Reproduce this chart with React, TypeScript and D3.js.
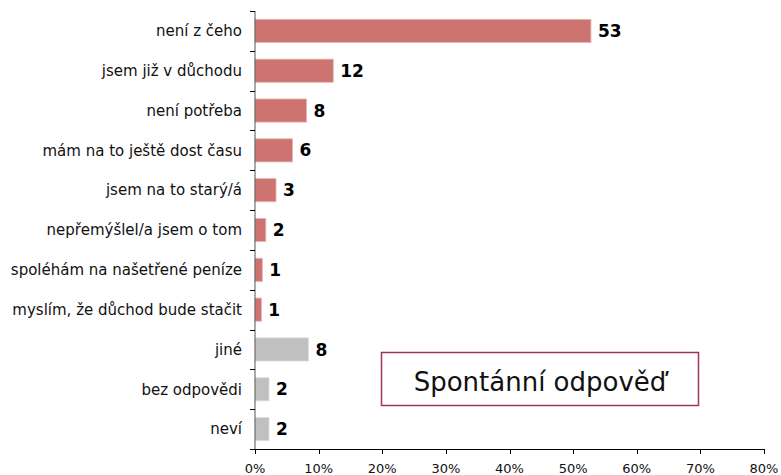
import React from "react";
import * as d3 from "d3";

const categories = [
  "není z čeho",
  "jsem již v důchodu",
  "není potřeba",
  "mám na to ještě dost času",
  "jsem na to starý/á",
  "nepřemýšlel/a jsem o tom",
  "spoléhám na našetřené peníze",
  "myslím, že důchod bude stačit",
  "jiné",
  "bez odpovědi",
  "neví",
];
const values = [52.8, 12.3, 8.1, 5.9, 3.3, 1.7, 1.15, 1.0, 8.4, 2.2, 2.2];
const labels = ["53", "12", "8", "6", "3", "2", "1", "1", "8", "2", "2"];
const groups = ["main", "main", "main", "main", "main", "main", "main", "main", "other", "other", "other"];
const xTicks = [0, 10, 20, 30, 40, 50, 60, 70, 80];
const boxText = "Spontánní odpověď";

const W = 781;
const H = 475;
const left = 255;
const right = 764;
const top = 11;
const bottom = 449;

export default function App() {
  const x = d3.scaleLinear().domain([0, 80]).range([left, right]);
  const y = d3
    .scaleBand<string>()
    .domain(categories)
    .range([top, bottom])
    .paddingInner(0.42)
    .paddingOuter(0.21);
  const step = y.step();
  const color = (g: string) => (g === "main" ? "#CE7470" : "#C0C0C0");
  const edge = (g: string) => (g === "main" ? "#E6B3B0" : "#DCDCDC");
  const font = "'DejaVu Sans', Verdana, sans-serif";

  return (
    <svg
      width={W}
      height={H}
      style={{ position: "absolute", left: 0, top: 0, background: "#fff" }}
      fontFamily={font}
    >
      {categories.map((c, i) => {
        const by = y(c)!;
        const bh = y.bandwidth();
        return (
          <g key={c}>
            <rect
              x={x(0)}
              y={by}
              width={x(values[i]) - x(0)}
              height={bh}
              fill={color(groups[i])}
              stroke={edge(groups[i])}
              strokeWidth={0.8}
            />
            <text
              x={242}
              y={by + bh / 2}
              dy="0.35em"
              textAnchor="end"
              fontSize={15}
              fill="#111"
            >
              {c}
            </text>
            <text
              x={x(values[i]) + 7}
              y={by + bh / 2}
              dy="0.36em"
              fontSize={17}
              fontWeight="bold"
              fill="#000"
            >
              {labels[i]}
            </text>
          </g>
        );
      })}
      {/* left axis */}
      <line x1={left} x2={left} y1={top} y2={bottom} stroke="#555" strokeWidth={1} />
      {d3.range(categories.length + 1).map((k) => {
        const yy = Math.round(top + k * step) + 0.5;
        return <line key={"yt" + k} x1={left - 5} x2={left} y1={yy} y2={yy} stroke="#000" />;
      })}
      {/* bottom axis */}
      <line x1={left - 1} x2={right} y1={bottom + 0.5} y2={bottom + 0.5} stroke="#000" />
      {xTicks.map((t) => (
        <g key={"xt" + t}>
          <line
            x1={Math.round(x(t)) + 0.5}
            x2={Math.round(x(t)) + 0.5}
            y1={bottom}
            y2={bottom + 5}
            stroke="#000"
          />
          <text x={x(t)} y={473} textAnchor="middle" fontSize={13} fill="#111">
            {t + "%"}
          </text>
        </g>
      ))}
      {/* annotation box */}
      <rect x={381.5} y={352.5} width={317} height={53} fill="#fff" stroke="#A2325F" strokeWidth={1.5} />
      <text x={540} y={391} textAnchor="middle" fontSize={26} fill="#111">
        {boxText}
      </text>
    </svg>
  );
}
